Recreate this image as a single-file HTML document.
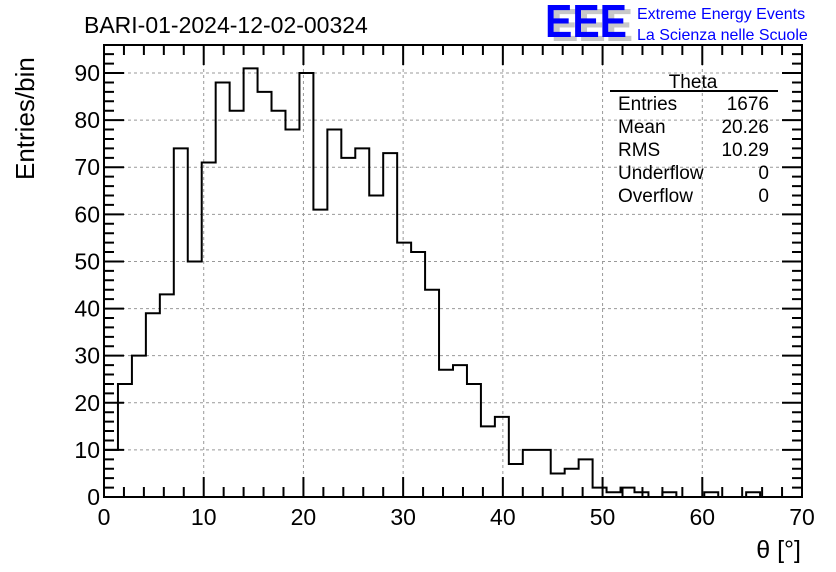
<!DOCTYPE html>
<html><head><meta charset="utf-8"><style>
html,body{margin:0;padding:0;background:#fff;}
svg{display:block;font-family:"Liberation Sans",sans-serif;}
</style></head><body>
<svg id="chart" width="836" height="572" viewBox="0 0 836 572">
<rect x="0" y="0" width="836" height="572" fill="#fff"/>
<g id="grid"></g>
<g id="ticks"></g>
<path id="hist" fill="none" stroke="#000" stroke-width="2"/>
<rect x="104" y="45" width="698" height="452" fill="none" stroke="#000" stroke-width="2"/>
<g id="xlabels" font-size="23" text-anchor="middle"></g>
<g id="ylabels" font-size="23" text-anchor="end"></g>
<text x="84" y="33" font-size="23">BARI-01-2024-12-02-00324</text>
<text x="801" y="558" font-size="25" text-anchor="end">θ [°]</text>
<text transform="translate(34,180) rotate(-90)" font-size="26">Entries/bin</text>
<g>
<text x="551" y="41" font-size="46" font-weight="bold" fill="#c8c8c8" textLength="82" lengthAdjust="spacingAndGlyphs">EEE</text>
<text x="545" y="37" font-size="46" font-weight="bold" fill="#0000ff" textLength="82" lengthAdjust="spacingAndGlyphs">EEE</text>
<text x="637" y="19" font-size="16" fill="#0000ff">Extreme Energy Events</text>
<text x="637" y="40" font-size="16" fill="#0000ff">La Scienza nelle Scuole</text>
</g>
<g font-size="19">
<text x="693" y="88" text-anchor="middle">Theta</text>
<line x1="610" y1="91" x2="778" y2="91" stroke="#000" stroke-width="2"/>
<text x="618" y="110">Entries</text><text x="769" y="110" text-anchor="end">1676</text>
<text x="618" y="133">Mean</text><text x="769" y="133" text-anchor="end">20.26</text>
<text x="618" y="156">RMS</text><text x="769" y="156" text-anchor="end">10.29</text>
<text x="618" y="179">Underflow</text><text x="769" y="179" text-anchor="end">0</text>
<text x="618" y="202">Overflow</text><text x="769" y="202" text-anchor="end">0</text>
</g>
</svg>
<script>
const binWidth = 1.4;
const counts = [10,24,30,39,43,74,50,71,88,82,91,86,82,78,90,61,78,72,74,64,73,54,52,44,27,28,24,15,17,7,10,10,5,6,8,2,1,2,1,0,1,0,0,1,0,0,1,0,0,0];
const xTicks = [0,10,20,30,40,50,60,70];
const yTicks = [0,10,20,30,40,50,60,70,80,90];
const xMin = 0, xMax = 70, yMin = 0, yMax = 95.95;
const L = 104, R = 802, T = 45, B = 497;
function sx(v){return L + (v - xMin) / (xMax - xMin) * (R - L);}
function sy(v){return B - (v - yMin) / (yMax - yMin) * (B - T);}
const NS = "http://www.w3.org/2000/svg";
function mk(tag, attrs, parent){const e=document.createElementNS(NS,tag);for(const k in attrs)e.setAttribute(k,attrs[k]);parent.appendChild(e);return e;}
const grid=document.getElementById('grid'), ticks=document.getElementById('ticks');
xTicks.forEach(v=>{
  if(v>xMin&&v<xMax){const g=mk('line',{x1:sx(v),x2:sx(v),y1:T,y2:B,stroke:'#999','stroke-dasharray':'3,3','stroke-width':1},grid);
  
  }
  const t=mk('text',{x:sx(v),y:B+28},document.getElementById('xlabels'));t.textContent=v;
  
  
});
yTicks.forEach(v=>{
  if(v>yMin){const g=mk('line',{x1:L,x2:R,y1:sy(v),y2:sy(v),stroke:'#999','stroke-dasharray':'3,3','stroke-width':1},grid);
  
  }
  const t=mk('text',{x:L-4,y:sy(v)+8},document.getElementById('ylabels'));t.textContent=v;
  
  
});
let d='';
for(let v=0; v<=70; v+=2){const len=(v%10===0)?20:10;
  d+=`M${sx(v)},${B}V${B-len}M${sx(v)},${T}V${T+len}`;}
for(let v=0; v<=yMax; v+=2){const len=(v%10===0)?20:10;
  d+=`M${L},${sy(v)}H${L+len}M${R},${sy(v)}H${R-len}`;}
const tk=mk('path',{d:d,stroke:'#000','stroke-width':2,fill:'none'},ticks);


let p=`M${sx(0)},${sy(0)}`;
counts.forEach((c,i)=>{const x0=sx(i*binWidth), x1=sx((i+1)*binWidth);
  p+=`L${x0},${sy(c)}L${x1},${sy(c)}`;});
p+=`L${sx(counts.length*binWidth)},${sy(0)}`;
document.getElementById('hist').setAttribute('d',p);
</script>
</body></html>
